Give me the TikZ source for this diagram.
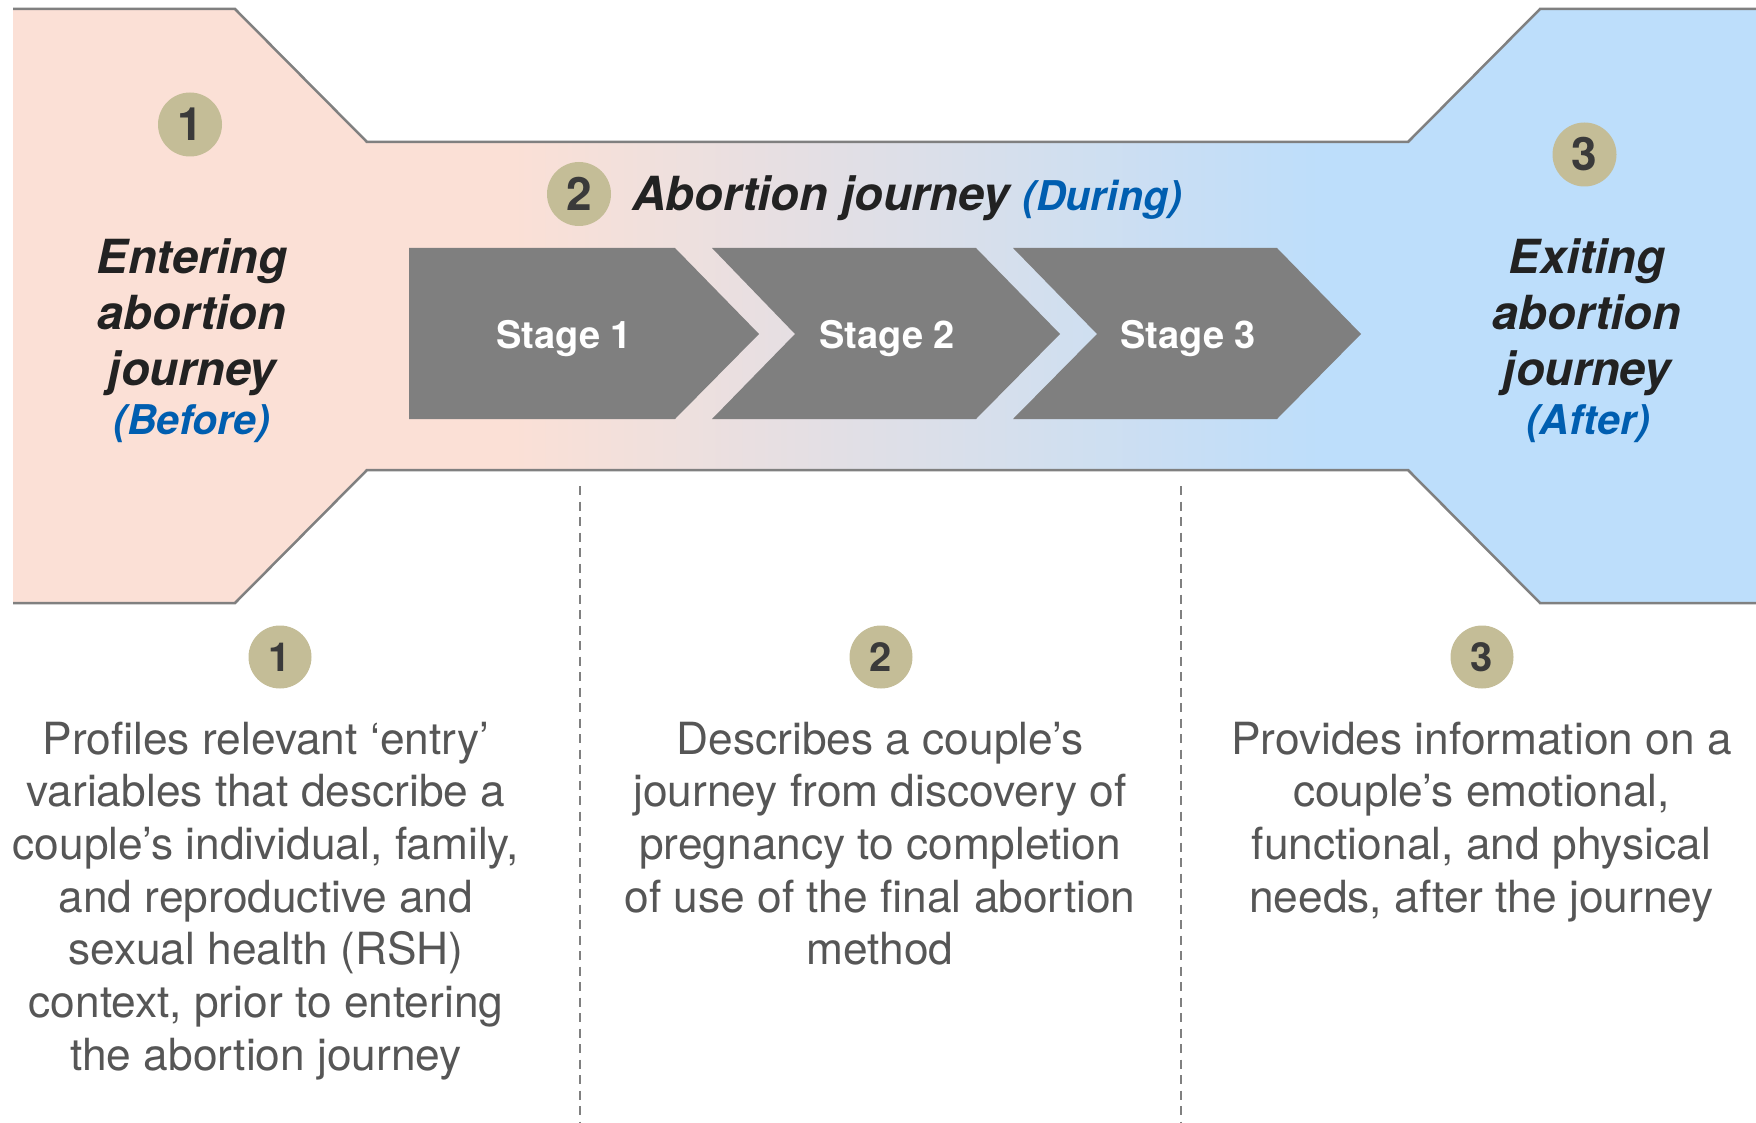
\documentclass[tikz,border=0pt]{standalone}
\usepackage{fontspec}
\setmainfont{TeX Gyre Heros}
\definecolor{peach}{RGB}{251,224,214}
\definecolor{skyb}{RGB}{189,222,251}
\definecolor{tan}{RGB}{196,189,151}
\definecolor{numc}{RGB}{58,58,58}
\definecolor{headc}{RGB}{34,34,34}
\definecolor{bluec}{RGB}{0,94,176}
\definecolor{descc}{RGB}{86,86,86}
\definecolor{linec}{RGB}{128,128,128}
\definecolor{stagec}{RGB}{127,127,127}
\pgfdeclarehorizontalshading{bandshade}{100bp}{color(0bp)=(peach); color(32bp)=(peach); color(71bp)=(skyb); color(100bp)=(skyb)}
\begin{document}
\begin{tikzpicture}[x=1pt,y=-1pt,
  outline/.style={draw=linec, line width=2.5pt, line join=miter},
  divider/.style={draw=linec, line width=2pt, dash pattern=on 9pt off 6.5pt},
  stagebox/.style={fill=stagec},
  numbig/.style={circle, fill=tan, inner sep=0pt, minimum size=64pt, text=numc, font=\bfseries\fontsize{46}{46}\selectfont},
  numsmall/.style={circle, fill=tan, inner sep=0pt, minimum size=63pt, text=numc, font=\bfseries\fontsize{40}{40}\selectfont},
  stagelabel/.style={anchor=base, inner sep=0pt, text=white, font=\bfseries\fontsize{38}{38}\selectfont},
  heading/.style={align=center, anchor=north, inner sep=0pt, text=headc, font=\bfseries\itshape\fontsize{47}{56}\selectfont},
  subhead/.style={anchor=base, inner sep=0pt, text=bluec, font=\bfseries\itshape\fontsize{41}{41}\selectfont},
  desc/.style={align=center, anchor=north, inner sep=0pt, text=descc, font=\fontsize{44.3}{52.67}\selectfont}
]
\useasboundingbox (0,0) rectangle (1756,1123);
% fills
\fill[peach] (13,9) -- (235,9) -- (367,142) -- (367,470) -- (235,603) -- (13,603) -- cycle;
\shade[shading=bandshade] (366,142) rectangle (1409,470);
\fill[skyb] (1408,142) -- (1540,9) -- (1756,9) -- (1756,603) -- (1540,603) -- (1408,470) -- cycle;
% outlines
\draw[outline] (13,9) -- (235,9) -- (367,142) -- (1408,142) -- (1540,9) -- (1756,9);
\draw[outline] (13,603) -- (235,603) -- (367,470) -- (1408,470) -- (1540,603) -- (1756,603);
% stages
\fill[stagebox] (409,248) -- (675,248) -- (759,334) -- (675,419) -- (409,419) -- cycle;
\fill[stagebox] (712,248) -- (976,248) -- (1060,334) -- (976,419) -- (712,419) -- (795,334) -- cycle;
\fill[stagebox] (1013,248) -- (1277,248) -- (1361,334) -- (1277,419) -- (1013,419) -- (1097,334) -- cycle;
\node[stagelabel] (s1) at (564,348) {Stage 1};
\node[stagelabel] (s2) at (887,348) {Stage 2};
\node[stagelabel] (s3) at (1188,348) {Stage 3};
% top numbers
\node[numbig] (n1) at (190,124.5) {1};
\node[numbig] (n2) at (579,194) {2};
\node[numbig] (n3) at (1584.5,154.5) {3};
% headings
\node[heading] (hl) at (192,233) {\rule{0pt}{40pt}Entering\\abortion\\journey};
\node[subhead] (hlb) at (192,434) {(Before)};
\node[heading] (hr) at (1587,233) {\rule{0pt}{40pt}Exiting\\abortion\\journey};
\node[subhead] (hrb) at (1588,434) {(After)};
\node[anchor=base west, inner sep=0pt, text=headc, font=\bfseries\itshape\fontsize{47}{47}\selectfont] (hm) at (632,211) {Abortion journey {\color{bluec}\fontsize{41}{41}\selectfont(During)}};
% dividers
\coordinate (d1a) at (580,486);
\coordinate (d1b) at (580,1123);
\coordinate (d2a) at (1181,486);
\coordinate (d2b) at (1181,1123);
\draw[divider] (d1a) -- (d1b);
\draw[divider] (d2a) -- (d2b);
% bottom numbers
\node[numsmall] (b1) at (280,657) {1};
\node[numsmall] (b2) at (881,657) {2};
\node[numsmall] (b3) at (1482,657) {3};
% descriptions
\node[desc] (t1) at (266,714) {\rule{0pt}{40pt}Profiles relevant ‘entry’\\variables that describe a\\couple’s individual, family,\\and reproductive and\\sexual health (RSH)\\context, prior to entering\\the abortion journey};
\node[desc] (t2) at (880,714) {\rule{0pt}{40pt}Describes a couple’s\\journey from discovery of\\pregnancy to completion\\of use of the final abortion\\method};
\node[desc] (t3) at (1481.5,714) {\rule{0pt}{40pt}Provides information on a\\couple’s emotional,\\functional, and physical\\needs, after the journey};
\end{tikzpicture}
\end{document}
